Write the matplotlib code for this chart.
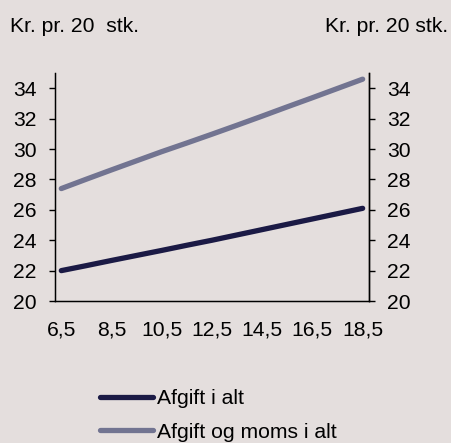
import matplotlib
matplotlib.use("Agg")
import matplotlib.pyplot as plt

plt.rcParams['font.family'] = ['Liberation Sans', 'DejaVu Sans']

# cigarette length (cm) and tax per 20 pcs
lengths = [6.5, 7.5, 8.5, 9.5, 10.5, 11.5, 12.5, 13.5, 14.5, 15.5, 16.5, 17.5, 18.5]
afgift = [22.0, 22.33, 22.67, 23.0, 23.33, 23.67, 24.0, 24.35, 24.7, 25.05, 25.4, 25.75, 26.1]
afgift_moms = [27.4, 28.02, 28.63, 29.23, 29.83, 30.4, 30.98, 31.57, 32.17, 32.78, 33.38, 33.99, 34.6]
xticks = [6.5, 8.5, 10.5, 12.5, 14.5, 16.5, 18.5]
yticks = [20, 22, 24, 26, 28, 30, 32, 34]

bg = "#E4DEDD"
dark = "#1B1A45"
grey = "#727491"
fs = 15.2

fig = plt.figure(figsize=(4.51, 4.43), dpi=100, facecolor=bg)
ax = fig.add_axes([0.122, 0.3205, 0.696, 0.5145], facecolor=bg)

l1, = ax.plot(lengths, afgift, color=dark, lw=3.8, solid_capstyle="round", label="Afgift i alt")
l2, = ax.plot(lengths, afgift_moms, color=grey, lw=3.8, solid_capstyle="round", label="Afgift og moms i alt")

ax.set_xlim(6.25, 18.75)
ax.set_ylim(20, 35)
ax.set_xticks(xticks)
ax.set_xticklabels([str(v).replace(".", ",") for v in xticks], fontsize=fs)
ax.set_yticks(yticks)
ax.set_yticklabels([str(v) for v in yticks], fontsize=fs)
ax.tick_params(axis="x", length=0, pad=14)
ax.tick_params(axis="y", direction="out", length=4.5, width=1, pad=8.5)
ax.spines["top"].set_visible(False)
for s in ["left", "right", "bottom"]:
    ax.spines[s].set_linewidth(1)
    ax.spines[s].set_color("black")

ax2 = ax.twinx()
ax2.set_ylim(20, 35)
ax2.set_yticks(yticks)
ax2.set_yticklabels([str(v) for v in yticks], fontsize=fs)
ax2.tick_params(axis="y", direction="out", length=4.5, width=1, pad=8.5)
ax2.spines["top"].set_visible(False)
ax2.spines["right"].set_linewidth(1)

fig.text(0.022, 0.94, "Kr. pr. 20  stk.", fontsize=fs, ha="left", va="center")
fig.text(0.993, 0.94, "Kr. pr. 20 stk.", fontsize=fs, ha="right", va="center")

fig.legend(handles=[l1, l2], loc="upper left", bbox_to_anchor=(0.222, 0.122),
           frameon=False, fontsize=fs, handlelength=2.5, handletextpad=0.2,
           labelspacing=0.7, borderpad=0, borderaxespad=0)

fig.savefig("out.png", dpi=100, facecolor=bg)
